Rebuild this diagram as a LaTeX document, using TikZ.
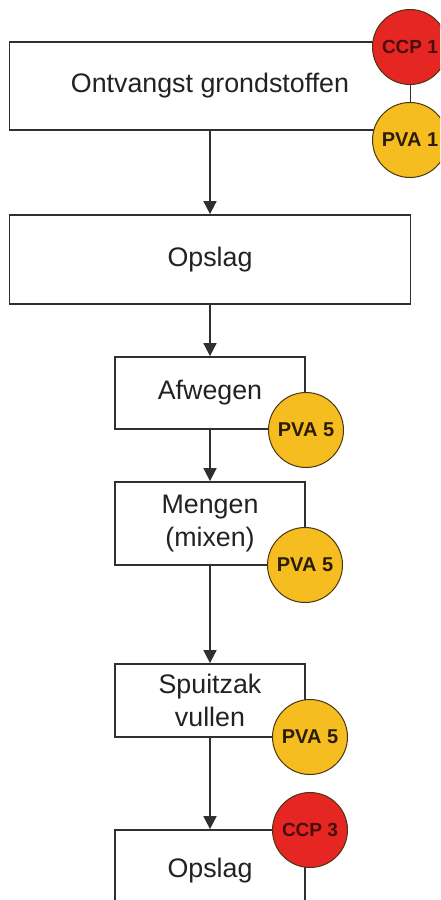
\documentclass[tikz,border=0pt]{standalone}
\usepackage{fontspec}
\setmainfont{Liberation Sans}
\usetikzlibrary{arrows.meta}
\definecolor{lineclr}{HTML}{303030}
\definecolor{txtclr}{HTML}{222222}
\definecolor{ccpred}{HTML}{E52622}
\definecolor{ccptxt}{HTML}{4A0D0D}
\definecolor{pvayellow}{HTML}{F5BD1F}
\definecolor{pvatxt}{HTML}{2B1E08}
\definecolor{ringclr}{HTML}{4A3512}
\tikzset{
  stepbox/.style={draw=lineclr, line width=1.8pt, rectangle, inner sep=0pt,
    text=txtclr, align=center, font=\fontsize{26.8}{33}\selectfont},
  ccp/.style={circle, draw=ringclr, line width=1pt, fill=ccpred, inner sep=0pt,
    minimum size=75pt, text=ccptxt, font=\bfseries\fontsize{19}{19}\selectfont},
  pva/.style={circle, draw=ringclr, line width=1pt, fill=pvayellow, inner sep=0pt,
    minimum size=75pt, text=pvatxt, font=\bfseries\fontsize{20}{20}\selectfont},
  flow/.style={draw=lineclr, line width=1.8pt, -{Triangle[length=13pt,width=13pt]}}
}
\begin{document}
\begin{tikzpicture}[x=1pt, y=-1pt]
  \useasboundingbox (0,0) rectangle (440,900);
  \fill[white] (0,0) rectangle (440,900);
  \clip (0,0) rectangle (440,900);

  % process steps
  \node[stepbox, minimum width=401pt, minimum height=88pt] (b1) at (210,86) {Ontvangst grondstoffen};
  \node[stepbox, minimum width=401pt, minimum height=89pt] (b2) at (210,259.5) {Opslag};
  \node[stepbox, minimum width=190pt, minimum height=72pt] (b3) at (210,393) {Afwegen};
  \node[stepbox, minimum width=190pt, minimum height=83pt] (b4) at (210,523.5) {Mengen\\(mixen)};
  \node[stepbox, minimum width=190pt, minimum height=73pt] (b5) at (210,700.5) {Spuitzak\\vullen};
  \node[stepbox, minimum width=190pt, minimum height=76pt, text depth=0pt] (b6) at (210,868) {Opslag};

  % flow between steps
  \draw[flow] (b1) -- (b2);
  \draw[flow] (b2) -- (b3);
  \draw[flow] (b3) -- (b4);
  \draw[flow] (b4) -- (b5);
  \draw[flow] (b5) -- (b6);

  % control points
  \node[ccp] (c1) at (410,47) {CCP 1};
  \node[pva] (p1) at (410,140) {PVA 1};
  \node[pva] (p2) at (306,430) {PVA 5};
  \node[pva] (p3) at (305,565) {PVA 5};
  \node[pva] (p4) at (310,737) {PVA 5};
  \node[ccp] (c3) at (310,830) {CCP 3};
\end{tikzpicture}
\end{document}
